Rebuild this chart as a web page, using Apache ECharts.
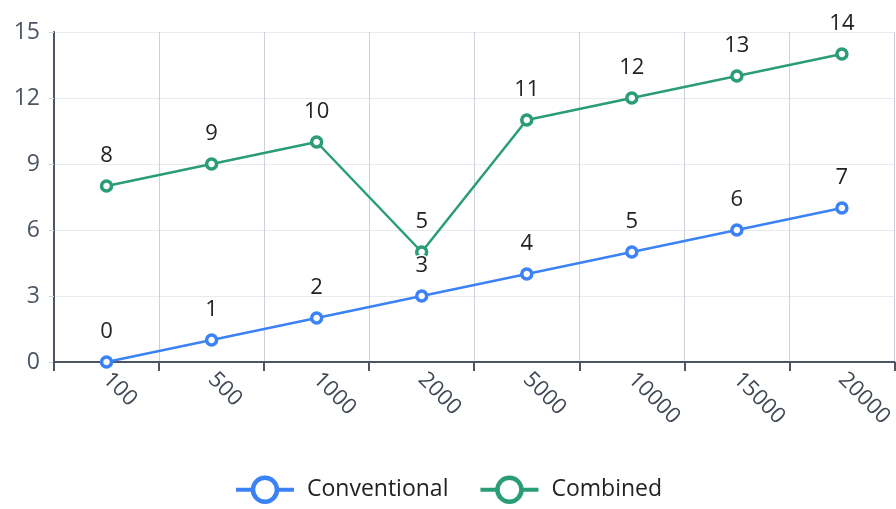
<!DOCTYPE html>
<html>
<head>
<meta charset="utf-8">
<script src="https://cdn.jsdelivr.net/npm/echarts@6/dist/echarts.min.js"></script>
<style>
  html, body { margin: 0; padding: 0; background: #fff; }
  #chart { width: 896px; height: 509px; }
</style>
</head>
<body>
<div id="chart"></div>
<script>
// Category labels along the x axis
const categories = ['100', '500', '1000', '2000', '5000', '10000', '15000', '20000'];
// Series values
const conventional = [0, 1, 2, 3, 4, 5, 6, 7];
const combined = [8, 9, 10, 5, 11, 12, 13, 14];
// Y axis range
const yMin = 0, yMax = 15, yStep = 3;

const FONT = '"Open Sans", "Noto Sans", sans-serif';
const BLUE = '#3b82f6';
const GREEN = '#2a9d78';

const chart = echarts.init(document.getElementById('chart'), null, { renderer: 'canvas' });

// Ring-shaped markers: white fill with a thick coloured border
function lineSeries(name, data, color) {
  return {
    name: name,
    type: 'line',
    data: data,
    symbol: 'circle',
    symbolSize: 10,
    showAllSymbol: true,
    lineStyle: { color: color, width: 2.5 },
    itemStyle: { color: '#fff', borderColor: color, borderWidth: 3.5 },
    label: {
      show: true,
      position: 'top',
      distance: 13,
      fontFamily: FONT,
      fontSize: 22,
      color: '#222',
      textBorderColor: '#fff',
      textBorderWidth: 3
    },
    emphasis: { disabled: true }
  };
}

chart.setOption({
  animation: false,
  color: [BLUE, GREEN],
  textStyle: { fontFamily: FONT },
  grid: { left: 54, top: 32, width: 845, height: 330, containLabel: false },
  legend: {
    bottom: 0,
    left: 'center',
    itemWidth: 58,
    itemHeight: 30,
    itemGap: 30,
    lineStyle: { width: 4 },
    itemStyle: { borderWidth: 4.5 },
    textStyle: { fontFamily: FONT, fontSize: 23, color: '#222', padding: [0, 0, 0, 8] },
    data: ['Conventional', 'Combined']
  },
  xAxis: {
    type: 'category',
    data: categories,
    boundaryGap: true,
    axisLine: { lineStyle: { color: '#4b5563', width: 2 } },
    axisTick: { show: true, length: 9, lineStyle: { color: '#4b5563', width: 2 } },
    axisLabel: { rotate: -45, margin: 14, fontFamily: FONT, fontSize: 22, color: '#3f4854' },
    splitLine: { show: true, lineStyle: { color: '#cbd2da', width: 1 } }
  },
  yAxis: {
    type: 'value',
    min: yMin,
    max: yMax,
    interval: yStep,
    axisLine: { show: true, lineStyle: { color: '#4b5563', width: 2 } },
    axisTick: { show: true, length: 5, lineStyle: { color: '#d0d4d8' } },
    axisLabel: { margin: 14, fontFamily: FONT, fontSize: 23, color: '#4b5563' },
    splitLine: { show: true, lineStyle: { color: '#e8eaed', width: 1 } }
  },
  series: [
    lineSeries('Conventional', conventional, BLUE),
    lineSeries('Combined', combined, GREEN)
  ]
});
</script>
</body>
</html>
